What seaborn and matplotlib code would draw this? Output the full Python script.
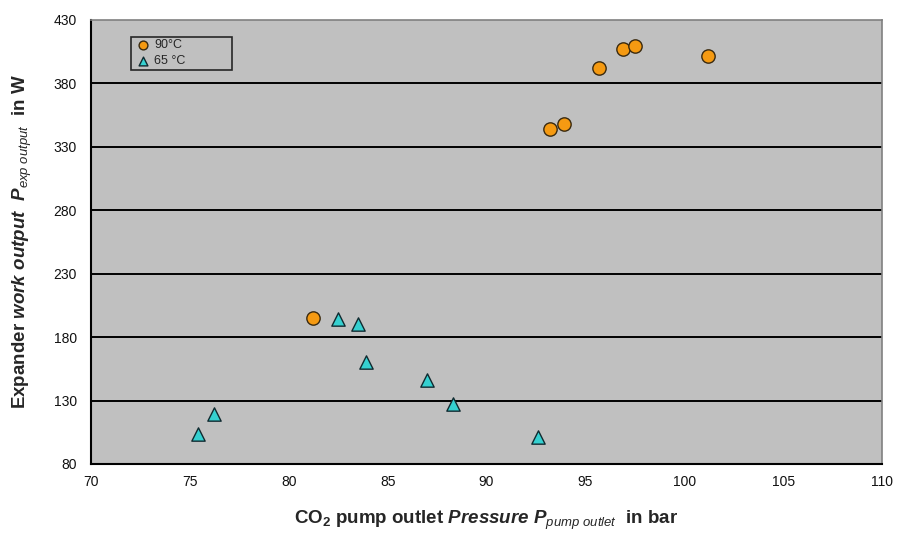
import matplotlib
matplotlib.use("Agg")
import matplotlib.pyplot as plt
import seaborn as sns
import pandas as pd

# Measured operating points
pressure_90 = [81.2, 93.2, 93.9, 95.7, 96.9, 97.5, 101.2]
power_90 = [195, 344, 348, 392, 407, 409.5, 401.5]

pressure_65 = [75.4, 76.2, 82.5, 83.5, 83.9, 87.0, 88.3, 92.6]
power_65 = [103.7, 119.5, 194.5, 190, 160, 146.5, 127.5, 101.5]

series_labels = ["90\u00b0C", "65 \u00b0C"]
x_ticks = [70, 75, 80, 85, 90, 95, 100, 105, 110]
y_ticks = [80, 130, 180, 230, 280, 330, 380, 430]

df = pd.concat([
    pd.DataFrame({"p": pressure_90, "w": power_90, "t": series_labels[0]}),
    pd.DataFrame({"p": pressure_65, "w": power_65, "t": series_labels[1]}),
], ignore_index=True)

sns.set_style("white")
plt.rcParams["font.family"] = ["Liberation Sans", "DejaVu Sans"]
plt.rcParams["mathtext.fontset"] = "custom"
plt.rcParams["mathtext.rm"] = "Liberation Sans"
plt.rcParams["mathtext.bf"] = "Liberation Sans:bold"
plt.rcParams["mathtext.it"] = "Liberation Sans:italic"
plt.rcParams["mathtext.bfit"] = "Liberation Sans:bold:italic"

fig = plt.figure(figsize=(9.01, 5.43), dpi=100)
ax = fig.add_axes([0.101, 0.1455, 0.878, 0.818])
ax.set_facecolor("#C0C0C0")

for y in y_ticks[1:-1]:
    ax.axhline(y, color="black", lw=1.4, zorder=1)

sns.scatterplot(data=df[df.t == series_labels[0]], x="p", y="w", ax=ax,
                marker="o", s=92, color="#F59A12", edgecolor="#3a2a10",
                linewidth=1.0, label=series_labels[0], zorder=3)
sns.scatterplot(data=df[df.t == series_labels[1]], x="p", y="w", ax=ax,
                marker="^", s=92, color="#35D0D0", edgecolor="#102a30",
                linewidth=1.0, label=series_labels[1], zorder=3)

ax.set_xlim(70, 110)
ax.set_ylim(80, 430)
ax.set_xticks(x_ticks)
ax.set_yticks(y_ticks)
ax.tick_params(axis="both", direction="out", length=6, width=1.2,
               color="black", labelsize=10, pad=4, labelcolor="#111111")
ax.tick_params(axis="x", pad=2)

for side in ("left", "bottom"):
    ax.spines[side].set_color("black")
    ax.spines[side].set_linewidth(1.5)
for side in ("top", "right"):
    ax.spines[side].set_color("#808080")
    ax.spines[side].set_linewidth(1.2)

ax.set_xlabel(r"$\mathbf{CO_2\ pump\ outlet\ }\mathbfit{Pressure\ P}_{\mathit{pump\ outlet}}\mathbf{\ \ in\ bar}$",
              fontsize=13.5, labelpad=14)
ax.set_ylabel(r"$\mathbf{Expander\ }\mathbfit{work\ output\ \ P}_{\mathit{exp\ output}}\mathbf{\ \ in\ W}$",
              fontsize=13.5, labelpad=14)

leg = ax.legend(loc="upper left", bbox_to_anchor=(0.0506, 0.8896, 0.1277, 0.072),
                mode="expand", fontsize=9, frameon=True, fancybox=False,
                borderpad=0.2, handletextpad=0.15, handlelength=1.5,
                labelspacing=0.3, borderaxespad=0)
leg.get_frame().set_facecolor("#C0C0C0")
leg.get_frame().set_edgecolor("black")
leg.get_frame().set_linewidth(1.2)
for h in leg.legend_handles:
    h.set_sizes([40])

fig.savefig("out.png", dpi=100)
